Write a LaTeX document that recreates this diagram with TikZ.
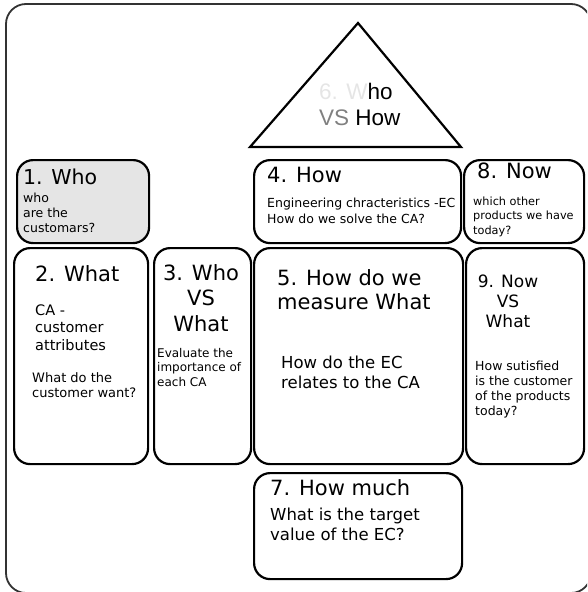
\documentclass[tikz,border=0pt]{standalone}
\usepackage{fontspec}
\setmainfont{DejaVu Sans}
\newfontfamily\arialfont{Liberation Sans}
\begin{document}
\begin{tikzpicture}[x=1pt,y=-1pt,
  box/.style={draw=black, line width=2.2pt, rounded corners=16pt, anchor=north west, inner sep=0pt},
  txt/.style={anchor=base west, inner sep=0pt, align=left},
  ctxt/.style={anchor=base, inner sep=0pt, align=center},
  fs/.style 2 args={font=\fontsize{#1}{#2}\selectfont}
]
\useasboundingbox (0,0) rectangle (587,592);
\clip (0,0) rectangle (587,592);
% outer frame
\draw[line width=1.8pt, black!80, rounded corners=20pt] (6,4) rectangle (591,593);
% triangle
\coordinate (apex) at (358,23);
\coordinate (tl) at (250,147);
\coordinate (tr) at (461,147);
\draw[line width=2.2pt, line join=miter] (apex) -- (tl) -- (tr) -- cycle;
\node[txt, font=\arialfont\fontsize{22.5}{26}\selectfont] (t6) at (319,125)
  {\textcolor{black!10}{6. W}ho\\\textcolor{black!50}{VS} How};
% boxes
\node[box, fill=black!10, minimum width=132pt, minimum height=83pt] (b1) at (16,159) {};
\node[box, minimum width=207pt, minimum height=83pt] (b4) at (253,159) {};
\node[box, minimum width=120pt, minimum height=83pt] (b8) at (463,159) {};
\node[box, minimum width=134pt, minimum height=216pt] (b2) at (13,247) {};
\node[box, minimum width=97pt, minimum height=216pt] (b3) at (153,247) {};
\node[box, minimum width=209pt, minimum height=216pt] (b5) at (253,247) {};
\node[box, minimum width=118pt, minimum height=216pt] (b9) at (465,247) {};
\node[box, minimum width=208pt, minimum height=106pt] (b7) at (253,472) {};
% texts (anchored at the baseline of the last line)
\node[txt, fs={20.5}{24}] (t1a) at (23,184) {1. Who};
\node[txt, fs={12.5}{15}] (t1b) at (23,232) {who\\are the\\customars?};
\node[txt, fs={21}{24}] (t4a) at (267,182) {4. How};
\node[txt, fs={12.5}{16}] (t4b) at (267,223) {Engineering chracteristics -EC\\How do we solve the CA?};
\node[txt, fs={21}{24}] (t8a) at (477,178) {8. Now};
\node[txt, fs={11.3}{14.5}] (t8b) at (473,234) {which other\\products we have\\today?};
\node[txt, fs={21}{24}] (t2a) at (35,281) {2. What};
\node[txt, fs={14.5}{17.5}] (t2b) at (35,350) {CA -\\customer\\attributes};
\node[txt, fs={13}{15}] (t2c) at (32,397) {What do the\\customer want?};
\node[ctxt, fs={21}{25.5}] (t3a) at (201,331) {3. Who\\VS\\What};
\node[txt, fs={12}{14.5}] (t3b) at (157,386) {Evaluate the\\importance of\\each CA};
\node[txt, fs={21}{24}] (t5a) at (277,309) {5. How do we\\measure What};
\node[txt, fs={16.5}{20}] (t5b) at (281,388) {How do the EC\\relates to the CA};
\node[ctxt, fs={17}{20}] (t9a) at (508,327) {9. Now\\VS\\What};
\node[txt, fs={12.5}{15}] (t9b) at (475,415) {How sutisfied\\is the customer\\of the products\\today?};
\node[txt, fs={21}{24}] (t7a) at (270,495) {7. How much};
\node[txt, fs={16.5}{20}] (t7b) at (270,540) {What is the target\\value of the EC?};
\end{tikzpicture}
\end{document}
